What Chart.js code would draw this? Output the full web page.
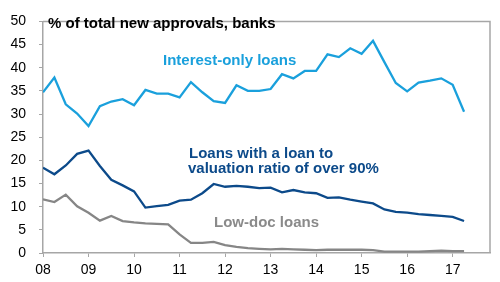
<!DOCTYPE html>
<html>
<head>
<meta charset="utf-8">
<script src="https://cdn.jsdelivr.net/npm/chart.js@4/dist/chart.umd.min.js"></script>
<style>
  html, body { margin: 0; padding: 0; background: #fff; }
  #wrap { width: 500px; height: 282px; }
</style>
</head>
<body>
<div id="wrap"><canvas id="chart" width="500" height="282"></canvas></div>
<script>
// quarters, 2008 Q1 .. 2017 Q2
const quarters = [
  "2008Q1","2008Q2","2008Q3","2008Q4","2009Q1","2009Q2","2009Q3","2009Q4",
  "2010Q1","2010Q2","2010Q3","2010Q4","2011Q1","2011Q2","2011Q3","2011Q4",
  "2012Q1","2012Q2","2012Q3","2012Q4","2013Q1","2013Q2","2013Q3","2013Q4",
  "2014Q1","2014Q2","2014Q3","2014Q4","2015Q1","2015Q2","2015Q3","2015Q4",
  "2016Q1","2016Q2","2016Q3","2016Q4","2017Q1","2017Q2"
];

const interestOnly = [
  34.7, 37.9, 32.1, 30.1, 27.4, 31.7, 32.7, 33.2,
  31.9, 35.2, 34.4, 34.4, 33.6, 36.9, 34.7, 32.8,
  32.4, 36.2, 35.0, 35.0, 35.4, 38.6, 37.7, 39.3,
  39.3, 42.9, 42.3, 44.2, 43.0, 45.8, 41.2, 36.7,
  34.9, 36.8, 37.2, 37.7, 36.3, 30.5
];

const highLvr = [
  18.4, 17.0, 18.9, 21.4, 22.1, 18.8, 15.8, 14.6,
  13.3, 9.8, 10.1, 10.4, 11.3, 11.5, 12.9, 14.9,
  14.3, 14.5, 14.3, 14.0, 14.1, 13.1, 13.6, 13.1,
  12.9, 11.9, 12.0, 11.5, 11.1, 10.7, 9.4, 8.9,
  8.7, 8.4, 8.2, 8.0, 7.8, 6.9
];

const lowDoc = [
  11.6, 11.0, 12.6, 10.1, 8.7, 7.0, 8.0, 6.9,
  6.6, 6.4, 6.3, 6.2, 4.0, 2.2, 2.2, 2.4,
  1.7, 1.3, 1.05, 0.9, 0.8, 0.9, 0.8, 0.7,
  0.6, 0.7, 0.7, 0.7, 0.7, 0.6, 0.3, 0.3,
  0.3, 0.3, 0.4, 0.5, 0.4, 0.4
];

const yearTicks = ["08", "09", "10", "11", "12", "13", "14", "15", "16", "17"];
const yTicks = [0, 5, 10, 15, 20, 25, 30, 35, 40, 45, 50];

function qx(q) {
  return Number(q.slice(2, 4)) + (Number(q.slice(5)) - 1) / 4;
}

function pts(vals) {
  return vals.map((v, i) => ({ x: qx(quarters[i]), y: v }));
}

const FONT = "'Liberation Sans', Arial, sans-serif";
const AXIS = "#a6a6a6";

const frame = {
  id: "frame",
  afterDraw(chart) {
    const a = chart.chartArea;
    const c = chart.ctx;
    c.save();
    c.strokeStyle = AXIS;
    c.lineWidth = 1.5;
    c.beginPath();
    c.moveTo(a.left, a.top);
    c.lineTo(a.right, a.top);
    c.lineTo(a.right, a.bottom);
    c.stroke();

    c.font = "bold 15px " + FONT;
    c.textBaseline = "middle";
    c.fillStyle = "#000";
    c.fillText("% of total new approvals, banks", 48, 24);

    c.fillStyle = "#1aa0dc";
    c.fillText("Interest-only loans", 163, 61);

    c.fillStyle = "#0c4a8a";
    c.fillText("Loans with a loan to", 189, 154);
    c.fillText("valuation ratio of over 90%", 188, 169);

    c.fillStyle = "#8a8a8a";
    c.fillText("Low-doc loans", 214, 223);
    c.restore();
  }
};

new Chart(document.getElementById("chart"), {
  type: "line",
  data: {
    datasets: [
      { label: "Interest-only loans", data: pts(interestOnly), borderColor: "#1aa0dc", borderWidth: 2.3 },
      { label: "Loans with LVR over 90%", data: pts(highLvr), borderColor: "#0c4a8a", borderWidth: 2.3 },
      { label: "Low-doc loans", data: pts(lowDoc), borderColor: "#868686", borderWidth: 2.3 }
    ]
  },
  options: {
    responsive: false,
    animation: false,
    events: [],
    layout: { padding: { top: 14, right: 10, left: 0, bottom: 0 } },
    elements: { point: { radius: 0 }, line: { tension: 0 } },
    plugins: { legend: { display: false }, tooltip: { enabled: false } },
    scales: {
      x: {
        type: "linear",
        min: 8,
        max: 17.82,
        afterBuildTicks(s) {
          s.ticks = yearTicks.map(t => ({ value: Number(t) }));
        },
        afterFit(s) { s.height = 29; },
        ticks: {
          callback: (v) => yearTicks.find(t => Number(t) === v) || "",
          color: "#000",
          font: { family: FONT, size: 14 },
          padding: 5,
          maxRotation: 0,
          autoSkip: false
        },
        grid: { drawOnChartArea: false, tickLength: 4, color: AXIS, lineWidth: 1 },
        border: { color: AXIS, width: 1.5 }
      },
      y: {
        min: 0,
        max: 50,
        afterBuildTicks(s) {
          s.ticks = yTicks.map(v => ({ value: v }));
        },
        afterFit(s) { s.width = 43; },
        ticks: {
          color: "#000",
          font: { family: FONT, size: 14 },
          padding: 13
        },
        grid: { drawOnChartArea: false, tickLength: 4, color: AXIS, lineWidth: 1 },
        border: { color: AXIS, width: 1.5 }
      }
    }
  },
  plugins: [frame]
});
</script>
</body>
</html>
